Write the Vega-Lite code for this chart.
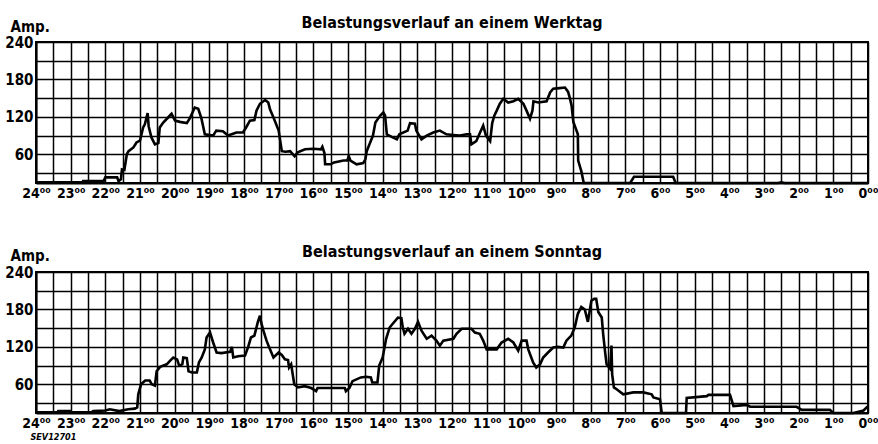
{
  "$schema": "https://vega.github.io/schema/vega-lite/v6.json",
  "background": "white",
  "padding": {"left": 3, "top": 14, "right": 0, "bottom": 0},
  "autosize": {"type": "pad"},
  "spacing": 89,
  "bounds": "flush",
  "config": {
    "view": {"stroke": "black", "strokeWidth": 2},
    "font": "DejaVu Sans Condensed",
    "title": {"font": "DejaVu Sans Condensed", "fontSize": 16, "fontWeight": "bold", "color": "black", "anchor": "middle", "frame": "group", "baseline": "alphabetic", "offset": -12},
    "axis": {"grid": true, "gridColor": "black", "gridWidth": 1.5, "gridOpacity": 1, "ticks": false, "domainColor": "black", "domainWidth": 2, "labelColor": "black", "labelFont": "DejaVu Sans Condensed", "labelFontWeight": "bold", "labelOverlap": false, "labelFlush": false, "labelBound": false, "titleColor": "black", "titleFont": "DejaVu Sans Condensed"}
  },
  "datasets": {
    "werktag": [
      {"t": 24, "amp": 15}, {"t": 22.65, "amp": 15}, {"t": 22.64, "amp": 17}, {"t": 22.05, "amp": 17}, {"t": 22.0, "amp": 23}, {"t": 21.66, "amp": 23}, {"t": 21.62, "amp": 17}, {"t": 21.55, "amp": 20}, {"t": 21.52, "amp": 36}, {"t": 21.45, "amp": 35}, {"t": 21.38, "amp": 60}, {"t": 21.33, "amp": 65}, {"t": 21.19, "amp": 71}, {"t": 21.1, "amp": 79}, {"t": 21.0, "amp": 82}, {"t": 20.91, "amp": 103}, {"t": 20.86, "amp": 108}, {"t": 20.78, "amp": 126}, {"t": 20.75, "amp": 105}, {"t": 20.67, "amp": 87}, {"t": 20.57, "amp": 76}, {"t": 20.47, "amp": 78}, {"t": 20.43, "amp": 103}, {"t": 20.33, "amp": 111}, {"t": 20.19, "amp": 119}, {"t": 20.09, "amp": 125}, {"t": 19.99, "amp": 114}, {"t": 19.85, "amp": 112}, {"t": 19.65, "amp": 110}, {"t": 19.56, "amp": 118}, {"t": 19.42, "amp": 135}, {"t": 19.32, "amp": 133}, {"t": 19.23, "amp": 118}, {"t": 19.13, "amp": 92}, {"t": 18.89, "amp": 90}, {"t": 18.8, "amp": 98}, {"t": 18.61, "amp": 97}, {"t": 18.46, "amp": 90}, {"t": 18.22, "amp": 95}, {"t": 18.03, "amp": 95}, {"t": 17.94, "amp": 103}, {"t": 17.83, "amp": 114}, {"t": 17.7, "amp": 115}, {"t": 17.64, "amp": 130}, {"t": 17.54, "amp": 141}, {"t": 17.39, "amp": 147}, {"t": 17.3, "amp": 143}, {"t": 17.25, "amp": 132}, {"t": 17.15, "amp": 119}, {"t": 17.0, "amp": 98}, {"t": 16.91, "amp": 65}, {"t": 16.8, "amp": 64}, {"t": 16.67, "amp": 65}, {"t": 16.54, "amp": 57}, {"t": 16.45, "amp": 63}, {"t": 16.24, "amp": 68}, {"t": 16.0, "amp": 69}, {"t": 15.78, "amp": 68}, {"t": 15.74, "amp": 72}, {"t": 15.68, "amp": 62}, {"t": 15.66, "amp": 44}, {"t": 15.5, "amp": 44}, {"t": 15.4, "amp": 47}, {"t": 15.13, "amp": 50}, {"t": 15.02, "amp": 50}, {"t": 14.98, "amp": 57}, {"t": 14.93, "amp": 50}, {"t": 14.75, "amp": 44}, {"t": 14.56, "amp": 46}, {"t": 14.5, "amp": 52}, {"t": 14.46, "amp": 65}, {"t": 14.38, "amp": 76}, {"t": 14.28, "amp": 90}, {"t": 14.21, "amp": 111}, {"t": 14.07, "amp": 122}, {"t": 13.98, "amp": 127}, {"t": 13.93, "amp": 122}, {"t": 13.88, "amp": 92}, {"t": 13.74, "amp": 88}, {"t": 13.59, "amp": 84}, {"t": 13.52, "amp": 92}, {"t": 13.28, "amp": 98}, {"t": 13.21, "amp": 110}, {"t": 13.07, "amp": 109}, {"t": 13.03, "amp": 98}, {"t": 12.88, "amp": 84}, {"t": 12.73, "amp": 90}, {"t": 12.54, "amp": 95}, {"t": 12.35, "amp": 98}, {"t": 12.16, "amp": 92}, {"t": 11.97, "amp": 91}, {"t": 11.77, "amp": 90}, {"t": 11.58, "amp": 92}, {"t": 11.48, "amp": 92}, {"t": 11.44, "amp": 76}, {"t": 11.3, "amp": 81}, {"t": 11.19, "amp": 95}, {"t": 11.1, "amp": 106}, {"t": 11.02, "amp": 90}, {"t": 10.9, "amp": 81}, {"t": 10.84, "amp": 110}, {"t": 10.78, "amp": 122}, {"t": 10.71, "amp": 130}, {"t": 10.62, "amp": 141}, {"t": 10.52, "amp": 149}, {"t": 10.38, "amp": 143}, {"t": 10.23, "amp": 145}, {"t": 10.09, "amp": 149}, {"t": 9.94, "amp": 141}, {"t": 9.85, "amp": 130}, {"t": 9.75, "amp": 117}, {"t": 9.68, "amp": 130}, {"t": 9.65, "amp": 145}, {"t": 9.51, "amp": 143}, {"t": 9.27, "amp": 145}, {"t": 9.17, "amp": 159}, {"t": 9.08, "amp": 165}, {"t": 8.9, "amp": 166}, {"t": 8.74, "amp": 167}, {"t": 8.65, "amp": 160}, {"t": 8.6, "amp": 150}, {"t": 8.55, "amp": 138}, {"t": 8.5, "amp": 112}, {"t": 8.42, "amp": 100}, {"t": 8.37, "amp": 92}, {"t": 8.36, "amp": 50}, {"t": 8.27, "amp": 33}, {"t": 8.2, "amp": 14}, {"t": 6.86, "amp": 14}, {"t": 6.75, "amp": 24}, {"t": 5.62, "amp": 24}, {"t": 5.55, "amp": 14}, {"t": 2.6, "amp": 14}, {"t": 2.5, "amp": 15}, {"t": 2.4, "amp": 14}, {"t": 0, "amp": 14}
    ],
    "sonntag": [
      {"t": 24, "amp": 15}, {"t": 23.38, "amp": 15}, {"t": 23.36, "amp": 17}, {"t": 23.02, "amp": 17}, {"t": 23.0, "amp": 15}, {"t": 22.4, "amp": 15}, {"t": 22.35, "amp": 17}, {"t": 22.0, "amp": 18}, {"t": 21.87, "amp": 20}, {"t": 21.6, "amp": 17}, {"t": 21.34, "amp": 20}, {"t": 21.15, "amp": 21}, {"t": 21.08, "amp": 23}, {"t": 21.05, "amp": 44}, {"t": 20.97, "amp": 60}, {"t": 20.85, "amp": 66}, {"t": 20.72, "amp": 66}, {"t": 20.66, "amp": 60}, {"t": 20.57, "amp": 58}, {"t": 20.52, "amp": 81}, {"t": 20.42, "amp": 88}, {"t": 20.23, "amp": 92}, {"t": 20.13, "amp": 98}, {"t": 20.04, "amp": 103}, {"t": 19.93, "amp": 100}, {"t": 19.87, "amp": 90}, {"t": 19.78, "amp": 92}, {"t": 19.75, "amp": 103}, {"t": 19.65, "amp": 102}, {"t": 19.6, "amp": 81}, {"t": 19.5, "amp": 79}, {"t": 19.36, "amp": 79}, {"t": 19.3, "amp": 95}, {"t": 19.22, "amp": 103}, {"t": 19.13, "amp": 116}, {"t": 19.08, "amp": 135}, {"t": 18.98, "amp": 143}, {"t": 18.89, "amp": 127}, {"t": 18.79, "amp": 111}, {"t": 18.65, "amp": 110}, {"t": 18.4, "amp": 112}, {"t": 18.35, "amp": 120}, {"t": 18.31, "amp": 103}, {"t": 18.17, "amp": 105}, {"t": 17.97, "amp": 106}, {"t": 17.88, "amp": 120}, {"t": 17.8, "amp": 135}, {"t": 17.7, "amp": 138}, {"t": 17.6, "amp": 160}, {"t": 17.54, "amp": 170}, {"t": 17.5, "amp": 158}, {"t": 17.44, "amp": 146}, {"t": 17.35, "amp": 130}, {"t": 17.25, "amp": 116}, {"t": 17.15, "amp": 103}, {"t": 17.0, "amp": 111}, {"t": 16.91, "amp": 107}, {"t": 16.82, "amp": 100}, {"t": 16.73, "amp": 99}, {"t": 16.7, "amp": 87}, {"t": 16.64, "amp": 92}, {"t": 16.55, "amp": 60}, {"t": 16.44, "amp": 55}, {"t": 16.25, "amp": 57}, {"t": 16.06, "amp": 54}, {"t": 15.92, "amp": 49}, {"t": 15.88, "amp": 54}, {"t": 15.09, "amp": 54}, {"t": 15.06, "amp": 49}, {"t": 14.96, "amp": 54}, {"t": 14.87, "amp": 65}, {"t": 14.63, "amp": 71}, {"t": 14.48, "amp": 72}, {"t": 14.34, "amp": 71}, {"t": 14.3, "amp": 63}, {"t": 14.15, "amp": 63}, {"t": 14.1, "amp": 90}, {"t": 14.0, "amp": 103}, {"t": 13.9, "amp": 133}, {"t": 13.8, "amp": 151}, {"t": 13.71, "amp": 157}, {"t": 13.56, "amp": 167}, {"t": 13.46, "amp": 166}, {"t": 13.42, "amp": 151}, {"t": 13.37, "amp": 141}, {"t": 13.27, "amp": 149}, {"t": 13.17, "amp": 141}, {"t": 13.07, "amp": 149}, {"t": 12.98, "amp": 160}, {"t": 12.88, "amp": 146}, {"t": 12.73, "amp": 133}, {"t": 12.59, "amp": 138}, {"t": 12.45, "amp": 130}, {"t": 12.35, "amp": 122}, {"t": 12.25, "amp": 130}, {"t": 11.96, "amp": 133}, {"t": 11.87, "amp": 141}, {"t": 11.72, "amp": 149}, {"t": 11.44, "amp": 149}, {"t": 11.34, "amp": 143}, {"t": 11.2, "amp": 141}, {"t": 11.1, "amp": 130}, {"t": 11.0, "amp": 116}, {"t": 10.71, "amp": 116}, {"t": 10.57, "amp": 127}, {"t": 10.38, "amp": 133}, {"t": 10.23, "amp": 127}, {"t": 10.09, "amp": 114}, {"t": 9.99, "amp": 130}, {"t": 9.85, "amp": 130}, {"t": 9.8, "amp": 116}, {"t": 9.66, "amp": 95}, {"t": 9.57, "amp": 87}, {"t": 9.46, "amp": 92}, {"t": 9.37, "amp": 103}, {"t": 9.23, "amp": 111}, {"t": 9.08, "amp": 119}, {"t": 8.94, "amp": 120}, {"t": 8.79, "amp": 119}, {"t": 8.7, "amp": 130}, {"t": 8.56, "amp": 138}, {"t": 8.46, "amp": 151}, {"t": 8.37, "amp": 173}, {"t": 8.27, "amp": 184}, {"t": 8.17, "amp": 180}, {"t": 8.08, "amp": 160}, {"t": 7.98, "amp": 194}, {"t": 7.9, "amp": 197}, {"t": 7.84, "amp": 197}, {"t": 7.78, "amp": 176}, {"t": 7.68, "amp": 167}, {"t": 7.64, "amp": 141}, {"t": 7.58, "amp": 110}, {"t": 7.54, "amp": 92}, {"t": 7.44, "amp": 85}, {"t": 7.4, "amp": 122}, {"t": 7.38, "amp": 76}, {"t": 7.33, "amp": 55}, {"t": 7.25, "amp": 52}, {"t": 7.06, "amp": 44}, {"t": 6.77, "amp": 47}, {"t": 6.48, "amp": 47}, {"t": 6.24, "amp": 44}, {"t": 6.19, "amp": 39}, {"t": 6.0, "amp": 36}, {"t": 5.95, "amp": 14}, {"t": 5.25, "amp": 14}, {"t": 5.23, "amp": 38}, {"t": 4.65, "amp": 41}, {"t": 4.6, "amp": 43}, {"t": 3.98, "amp": 43}, {"t": 3.88, "amp": 25}, {"t": 3.5, "amp": 27}, {"t": 3.4, "amp": 24}, {"t": 2.06, "amp": 24}, {"t": 1.91, "amp": 19}, {"t": 1.1, "amp": 19}, {"t": 1.0, "amp": 14}, {"t": 0.42, "amp": 14}, {"t": 0.13, "amp": 18}, {"t": 0, "amp": 25}
    ]
  },
  "vconcat": [
    {
      "width": 832,
      "height": 141,
      "title": {"text": "Belastungsverlauf an einem Werktag"},
      "data": {"name": "werktag"},
      "mark": {"type": "line", "color": "black", "strokeWidth": 2.6},
      "encoding": {
        "x": {"field": "t", "type": "quantitative", "scale": {"domain": [0, 24], "reverse": true, "nice": false, "zero": false},
          "axis": {"title": null, "values": [0,0.5,1,1.5,2,2.5,3,3.5,4,4.5,5,5.5,6,6.5,7,7.5,8,8.5,9,9.5,10,10.5,11,11.5,12,12.5,13,13.5,14,14.5,15,15.5,16,16.5,17,17.5,18,18.5,19,19.5,20,20.5,21,21.5,22,22.5,23,23.5,24],
            "labelExpr": "datum.value % 1 == 0 ? datum.value + '⁰⁰' : ''", "labelFontSize": 14, "labelPadding": 3}},
        "y": {"field": "amp", "type": "quantitative", "scale": {"domain": [14, 240], "nice": false, "zero": false},
          "axis": {"values": [30,60,90,120,150,180,210,240], "labelExpr": "datum.value % 60 == 0 ? datum.label : ''", "labelFontSize": 15, "labelPadding": 3,
            "title": "Amp.", "titleAngle": 0, "titleX": -26, "titleY": -11, "titleAlign": "left", "titleBaseline": "alphabetic", "titleFontSize": 15, "titleFontWeight": "bold"}},
        "order": {"value": null}
      }
    },
    {
      "width": 832,
      "height": 141,
      "title": {"text": "Belastungsverlauf an einem Sonntag"},
      "data": {"name": "sonntag"},
      "mark": {"type": "line", "color": "black", "strokeWidth": 2.6},
      "encoding": {
        "x": {"field": "t", "type": "quantitative", "scale": {"domain": [0, 24], "reverse": true, "nice": false, "zero": false},
          "axis": {"values": [0,0.5,1,1.5,2,2.5,3,3.5,4,4.5,5,5.5,6,6.5,7,7.5,8,8.5,9,9.5,10,10.5,11,11.5,12,12.5,13,13.5,14,14.5,15,15.5,16,16.5,17,17.5,18,18.5,19,19.5,20,20.5,21,21.5,22,22.5,23,23.5,24],
            "labelExpr": "datum.value % 1 == 0 ? datum.value + '⁰⁰' : ''", "labelFontSize": 14, "labelPadding": 3,
            "title": "SEV12701", "titleX": -6, "titleY": 26, "titleAlign": "left", "titleBaseline": "alphabetic", "titleFontSize": 9, "titleFontStyle": "italic", "titleFontWeight": "bold"}},
        "y": {"field": "amp", "type": "quantitative", "scale": {"domain": [14, 240], "nice": false, "zero": false},
          "axis": {"values": [30,60,90,120,150,180,210,240], "labelExpr": "datum.value % 60 == 0 ? datum.label : ''", "labelFontSize": 15, "labelPadding": 3,
            "title": "Amp.", "titleAngle": 0, "titleX": -26, "titleY": -12, "titleAlign": "left", "titleBaseline": "alphabetic", "titleFontSize": 15, "titleFontWeight": "bold"}},
        "order": {"value": null}
      }
    }
  ]
}
